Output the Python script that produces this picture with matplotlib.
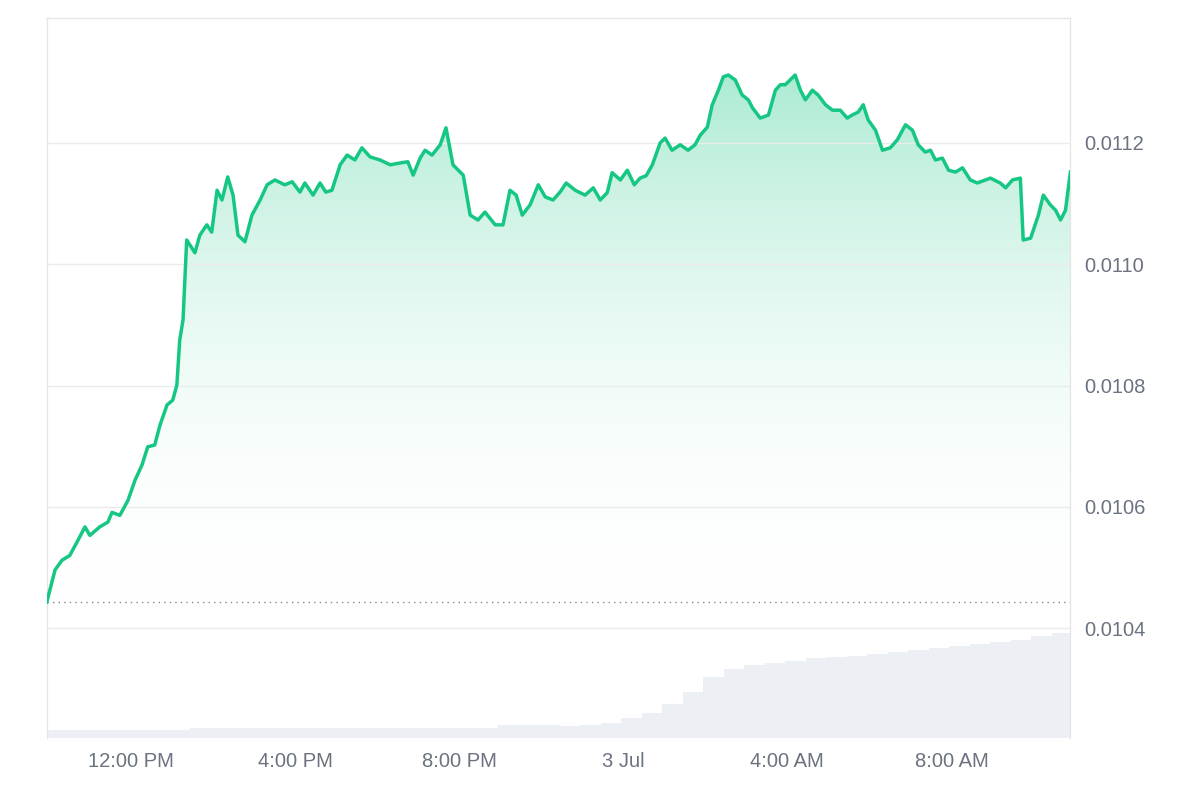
import numpy as np
import matplotlib.pyplot as plt
import matplotlib.dates as mdates
import pandas as pd
from matplotlib.patches import Polygon

plt.rcParams['font.family'] = ['Liberation Sans', 'DejaVu Sans']

start = pd.Timestamp("2024-07-02 09:57")

# hours since start, price
hours = [0, .20, .37, .56, .76, .93, 1.05, 1.29, 1.49, 1.59, 1.78, 1.98, 2.15, 2.32, 2.46, 2.63, 2.76,
         2.93, 3.07, 3.17, 3.24, 3.32, 3.41, 3.61, 3.73, 3.90, 4.02, 4.15, 4.27, 4.41, 4.54, 4.66, 4.83,
         5.00, 5.20, 5.37, 5.56, 5.80, 5.98, 6.17, 6.29, 6.49, 6.66, 6.80, 6.95, 7.15, 7.32, 7.51, 7.68,
         7.88, 8.12, 8.37, 8.61, 8.80, 8.93, 9.10, 9.22, 9.39, 9.59, 9.73, 9.90, 10.15, 10.32, 10.51,
         10.68, 10.93, 11.12, 11.29, 11.44, 11.59, 11.78, 11.98, 12.15, 12.34, 12.51, 12.66, 12.88,
         13.12, 13.32, 13.49, 13.66, 13.78, 13.98, 14.15, 14.32, 14.46, 14.61, 14.76, 14.95, 15.07,
         15.24, 15.44, 15.63, 15.80, 15.93, 16.10, 16.22, 16.37, 16.49, 16.61, 16.78, 16.95, 17.10,
         17.20, 17.39, 17.59, 17.76, 17.88, 18.00, 18.12, 18.24, 18.37, 18.49, 18.66, 18.80, 18.98,
         19.15, 19.34, 19.51, 19.63, 19.78, 19.90, 20.02, 20.20, 20.37, 20.56, 20.73, 20.93, 21.10,
         21.24, 21.41, 21.54, 21.66, 21.83, 21.98, 22.15, 22.32, 22.51, 22.68, 22.88, 23.00, 23.24,
         23.37, 23.54, 23.73, 23.80, 23.98, 24.17, 24.29, 24.46, 24.59, 24.71, 24.83, 24.95]
prices = [10443, 10496, 10512, 10520, 10545, 10567, 10553, 10567, 10575, 10591, 10586, 10611, 10644,
          10669, 10699, 10702, 10735, 10768, 10776, 10801, 10875, 10908, 11040, 11019, 11048, 11065,
          11053, 11122, 11106, 11144, 11114, 11048, 11037, 11081, 11106, 11131, 11139, 11131, 11136,
          11119, 11134, 11114, 11134, 11119, 11122, 11164, 11180, 11172, 11192, 11177, 11172, 11164,
          11167, 11169, 11147, 11175, 11188, 11180, 11197, 11225, 11164, 11147, 11081, 11073, 11086,
          11065, 11065, 11122, 11114, 11081, 11098, 11131, 11111, 11106, 11119, 11134, 11122, 11114,
          11126, 11106, 11118, 11151, 11139, 11155, 11131, 11142, 11146, 11164, 11200, 11208, 11188,
          11197, 11188, 11197, 11213, 11226, 11263, 11287, 11309, 11312, 11304, 11279, 11271, 11258,
          11241, 11246, 11287, 11296, 11296, 11304, 11312, 11287, 11271, 11287, 11279, 11263, 11254,
          11254, 11241, 11246, 11251, 11263, 11238, 11221, 11188, 11192, 11205, 11230, 11221, 11197,
          11185, 11188, 11172, 11175, 11155, 11152, 11159, 11139, 11134, 11139, 11142, 11134, 11126,
          11139, 11142, 11040, 11043, 11081, 11114, 11098, 11089, 11073, 11089, 11152]
prices = [p / 1e6 for p in prices]

# volume, 30-minute bins
volume = [8, 8, 8, 8, 8, 8, 8,
          10, 10, 10, 10, 10, 10, 10, 10, 10, 10, 10, 10, 10, 10, 10,
          13, 13, 13, 12, 13, 15,
          20, 25, 33, 45,
          60, 68,
          72, 74, 76, 78, 79, 80, 82, 84, 86, 88, 90, 92, 94, 96, 100, 103]

green = "#16c784"
t = mdates.date2num(start + pd.to_timedelta(hours, unit="h"))
tv = mdates.date2num(start + pd.to_timedelta(np.arange(len(volume)) * 0.5, unit="h"))
base = prices[0]
ylo, yhi = 0.010219, 0.011406

fig = plt.figure(figsize=(12, 8), dpi=100)
ax = fig.add_axes([0.039, 0.0775, 0.853, 0.9])

# volume on its own axis
axv = ax.twinx()
axv.bar(tv, volume, width=0.5 / 24, align="edge", color="#eceff3", linewidth=0)
axv.set_ylim(0, max(volume) * 720 / 105)
axv.set_yticks([])
axv.set_zorder(0)
ax.set_zorder(1)
ax.patch.set_visible(False)

# gradient fill
grad = np.linspace(0, 1, 256).reshape(-1, 1)
cmap = plt.matplotlib.colors.LinearSegmentedColormap.from_list("g", [(1, 1, 1, 0), (0.09, 0.78, 0.52, 0.36)])
im = ax.imshow(grad, extent=[t[0], t[-1], base, max(prices)], origin="lower", aspect="auto",
               cmap=cmap, zorder=1)
poly = Polygon(list(zip(t, prices)) + [(t[-1], base), (t[0], base)], closed=True, transform=ax.transData)
im.set_clip_path(poly)

ax.plot(t, prices, color=green, lw=2.5, zorder=3)
ax.axhline(base, color="#888888", lw=1, ls=(0, (1, 3)), zorder=2)

ax.set_xlim(t[0], t[-1])
ax.set_ylim(ylo, yhi)
yt = [0.0104, 0.0106, 0.0108, 0.0110, 0.0112]
ax.set_yticks(yt)
ax.set_yticklabels([f"{v:.4f}" for v in yt])
ax.yaxis.tick_right()
ax.grid(axis="y", color="#ebebeb", lw=1)
ax.tick_params(axis="both", length=0, labelsize=14.5, colors="#6b7280", pad=10)

xt = [pd.Timestamp("2024-07-02 12:00"), pd.Timestamp("2024-07-02 16:00"), pd.Timestamp("2024-07-02 20:00"),
      pd.Timestamp("2024-07-03 00:00"), pd.Timestamp("2024-07-03 04:00"), pd.Timestamp("2024-07-03 08:00")]
xl = ["12:00 PM", "4:00 PM", "8:00 PM", "3 Jul", "4:00 AM", "8:00 AM"]
ax.set_xticks(mdates.date2num(xt))
ax.set_xticklabels(xl)

for a in (ax, axv):
    for s in ("top", "left", "right"):
        a.spines[s].set_color("#e5e5e5")
    a.spines["bottom"].set_visible(False)

fig.savefig("out.png")
